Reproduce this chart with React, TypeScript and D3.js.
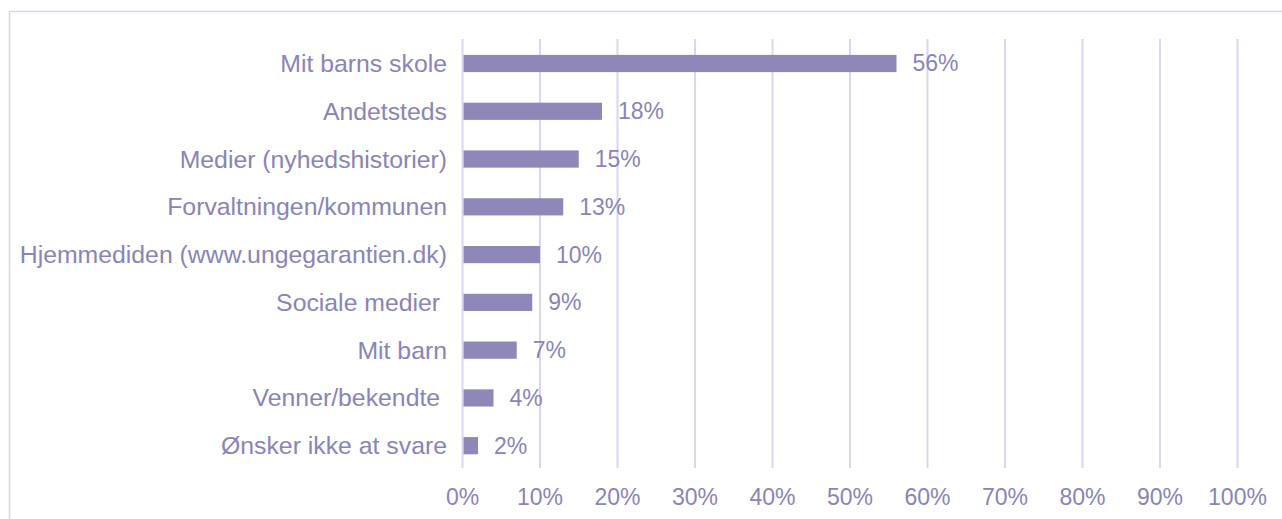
import React from "react";
import * as d3 from "d3";

const categories = [
  "Mit barns skole",
  "Andetsteds",
  "Medier (nyhedshistorier)",
  "Forvaltningen/kommunen",
  "Hjemmediden (www.ungegarantien.dk)",
  "Sociale medier ",
  "Mit barn",
  "Venner/bekendte ",
  "Ønsker ikke at svare",
];
const values = [0.56, 0.18, 0.15, 0.13, 0.1, 0.09, 0.07, 0.04, 0.02];
const ticks = [0, 0.1, 0.2, 0.3, 0.4, 0.5, 0.6, 0.7, 0.8, 0.9, 1.0];

const W = 1282;
const H = 519;
const BAR = "#8E88B9";
const TEXT = "#8A84B8";
const GRID = "#DAD6F1";
const FONT = "Liberation Sans, Arial, sans-serif";
const FS = 23;
const FS_CAT = 24.8;

export default function App() {
  const x = d3.scaleLinear().domain([0, 1]).range([462.5, 1237.5]);
  const y = d3
    .scaleBand<string>()
    .domain(categories)
    .range([39.6, 469.6])
    .paddingInner(0.64)
    .paddingOuter(0.32);
  const fmt = d3.format(".0%");
  return (
    <svg
      width={W}
      height={H}
      style={{ position: "absolute", left: 0, top: 0, background: "#fff" }}
    >
      <rect x={9.5} y={11.5} width={W + 20} height={H + 20} fill="#fff" stroke={GRID} strokeWidth={1.5} />
      {ticks.map((t) => (
        <line key={t} x1={x(t)} x2={x(t)} y1={39} y2={468} stroke={GRID} strokeWidth={2} />
      ))}
      {categories.map((c, i) => (
        <rect
          key={c}
          x={x(0) + 1}
          y={y(c)!}
          width={x(values[i]) - x(0) - 1}
          height={y.bandwidth()}
          fill={BAR}
        />
      ))}
      {categories.map((c, i) => (
        <text
          key={"l" + c}
          x={447}
          y={y(c)! + y.bandwidth() / 2}
          textAnchor="end"
          dominantBaseline="central"
          fontFamily={FONT}
          fontSize={FS_CAT}
          fill={TEXT}
          style={{ whiteSpace: "pre" }}
        >
          {c}
        </text>
      ))}
      {categories.map((c, i) => (
        <text
          key={"v" + c}
          x={x(values[i]) + 16}
          y={y(c)! + y.bandwidth() / 2}
          dominantBaseline="central"
          fontFamily={FONT}
          fontSize={FS}
          fill={TEXT}
        >
          {fmt(values[i])}
        </text>
      ))}
      {ticks.map((t) => (
        <text
          key={"t" + t}
          x={x(t)}
          y={497}
          textAnchor="middle"
          dominantBaseline="central"
          fontFamily={FONT}
          fontSize={FS}
          fill={TEXT}
        >
          {fmt(t)}
        </text>
      ))}
    </svg>
  );
}
